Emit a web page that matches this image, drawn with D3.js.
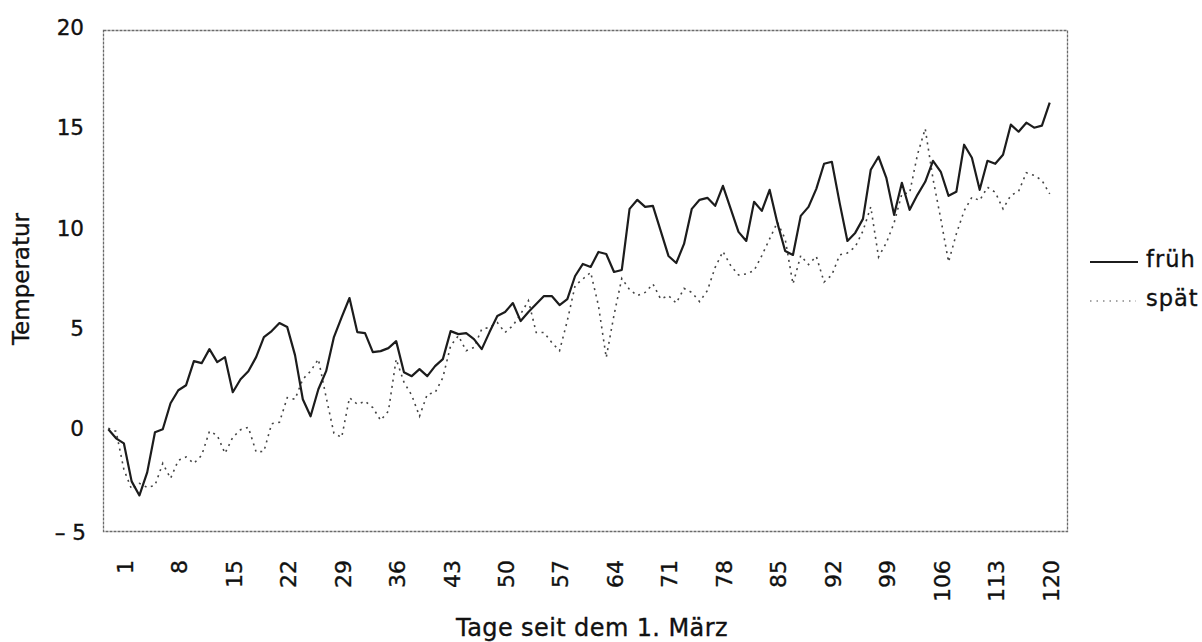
<!DOCTYPE html>
<html>
<head>
<meta charset="utf-8">
<script src="https://cdn.jsdelivr.net/npm/d3@7"></script>
<style>
  html, body { margin: 0; padding: 0; background: #fff; }
  svg { display: block; }
  text { font-family: "DejaVu Sans", "Liberation Sans", sans-serif; fill: #111; stroke: #111; stroke-width: 0.35px; }
</style>
</head>
<body>
<svg id="chart" width="1202" height="642"></svg>
<script>
// ---- data ----
const days = d3.range(-1, 121); // category positions along the axis (122 points)
const frueh = [
  0.1, -0.35, -0.6, -2.5, -3.2, -2.05, -0.05, 0.1, 1.4, 2.05,
  2.3, 3.5, 3.4, 4.1, 3.45, 3.7, 1.95, 2.6, 3.0, 3.7,
  4.7, 5.0, 5.4, 5.2, 3.8, 1.6, 0.75, 2.1, 3.0, 4.7,
  5.7, 6.65, 4.95, 4.9, 3.95, 4.0, 4.15, 4.5, 2.95, 2.75,
  3.1, 2.75, 3.25, 3.6, 5.0, 4.85, 4.9, 4.6, 4.1, 4.95,
  5.75, 5.95, 6.4, 5.5, 5.95, 6.35, 6.75, 6.75, 6.3, 6.6,
  7.75, 8.35, 8.2, 8.95, 8.85, 7.95, 8.05, 11.1, 11.55, 11.2,
  11.25, 10.0, 8.75, 8.4, 9.35, 11.1, 11.55, 11.65, 11.25, 12.25,
  11.1, 9.95, 9.5, 11.45, 11.0, 12.05, 10.4, 9.0, 8.8, 10.75,
  11.2, 12.1, 13.35, 13.45, 11.4, 9.5, 9.9, 10.6, 13.05, 13.7,
  12.65, 10.8, 12.4, 11.05, 11.8, 12.45, 13.5, 12.95, 11.75, 11.95,
  14.3, 13.65, 12.05, 13.5, 13.35, 13.8, 15.3, 14.95, 15.4, 15.15,
  15.25, 16.4
];
const spaet = [
  0.15, 0.0, -1.9, -2.9, -2.6, -2.8, -2.7, -1.6, -2.35, -1.45,
  -1.28, -1.6, -1.2, 0.0, -0.2, -1.1, -0.3, 0.08, 0.2, -1.03,
  -1.0, 0.38, 0.45, 1.68, 1.6, 2.6, 3.0, 3.6, 1.7, -0.1,
  -0.3, 1.68, 1.35, 1.5, 1.18, 0.55, 1.0, 3.6, 2.45, 1.8,
  0.75, 1.85, 1.93, 2.68, 4.27, 4.77, 4.02, 4.18, 5.1, 5.18,
  5.43, 4.93, 5.27, 5.85, 6.52, 4.93, 4.93, 4.43, 4.02, 5.52,
  7.27, 7.6, 7.93, 6.27, 3.68, 5.8, 7.63, 7.07, 6.77, 6.93,
  7.35, 6.6, 6.77, 6.4, 7.13, 6.93, 6.47, 7.02, 8.18, 8.97,
  8.27, 7.8, 7.85, 8.02, 8.77, 9.6, 10.43, 9.6, 7.35, 8.77,
  8.32, 8.73, 7.45, 7.8, 8.8, 8.9, 9.2, 10.0, 11.2, 8.7,
  9.4, 10.4, 11.85, 11.9, 13.8, 15.1, 12.6, 10.6, 8.45, 9.85,
  11.0, 11.68, 11.52, 12.18, 11.93, 11.1, 11.77, 11.97, 12.9, 12.77,
  12.52, 11.85
];
const xTickLabels = [1, 8, 15, 22, 29, 36, 43, 50, 57, 64, 71, 78, 85, 92, 99, 106, 113, 120];
const yTicks = [-5, 0, 5, 10, 15, 20];
const seriesNames = ["früh", "spät"];
const xTitle = "Tage seit dem 1. März";
const yTitle = "Temperatur";

// ---- layout ----
const svg = d3.select("#chart");
const frame = { left: 103.5, right: 1067.5, top: 30.5, bottom: 531.5 };

const x = d3.scaleLinear().domain([-1, 120]).range([108.3, 1049.7]);
const y = d3.scaleLinear().domain([-5, 20]).range([frame.bottom, frame.top]);

// frame (dashed grey border)
svg.append("rect")
  .attr("x", frame.left).attr("y", frame.top)
  .attr("width", frame.right - frame.left).attr("height", frame.bottom - frame.top)
  .attr("stroke", "#6a6a6a").attr("stroke-width", 1.3)
  .attr("stroke-dasharray", "3,1").attr("fill", "none");

// y axis labels
const yAxis = d3.axisLeft(y).tickValues(yTicks).tickSize(0).tickPadding(0)
  .tickFormat(d => d < 0 ? "– " + Math.abs(d) : String(d));
const yg = svg.append("g").attr("transform", `translate(84,0)`).call(yAxis);
yg.select(".domain").remove();
yg.selectAll("text")
  .attr("x", d => d < 0 ? 2 : 0).attr("dy", "0.36em").attr("y", d => d === -5 ? 0 : -3.5)
  .attr("text-anchor", "end")
  .style("font-family", "'DejaVu Sans', sans-serif")
  .style("font-size", "21.5px").attr("fill", "#111");

// x axis labels (rotated)
const xAxis = d3.axisBottom(x).tickValues(xTickLabels).tickSize(0).tickPadding(0)
  .tickFormat(d => String(d));
const xg = svg.append("g").attr("transform", `translate(0,560)`).call(xAxis);
xg.select(".domain").remove();
xg.selectAll("text")
  .attr("transform", "rotate(-90)")
  .attr("x", 0).attr("y", 0).attr("dy", "0.36em").attr("dx", 0)
  .attr("text-anchor", "end")
  .style("font-family", "'DejaVu Sans', sans-serif")
  .style("font-size", "22px").attr("fill", "#111");
xg.selectAll(".tick").attr("transform", d => `translate(${x(d) + 1},0)`);

// lines
const line = d3.line().x((d, i) => x(days[i])).y(d => y(d));

svg.append("path").datum(spaet)
  .attr("d", line).attr("fill", "none")
  .attr("stroke", "#444").attr("stroke-width", 1.6)
  .attr("stroke-dasharray", "2,4.5");

svg.append("path").datum(frueh)
  .attr("d", line).attr("fill", "none")
  .attr("stroke", "#1c1c1c").attr("stroke-width", 2.2)
  .attr("stroke-linejoin", "round");

// axis titles
svg.append("text")
  .attr("x", 592).attr("y", 636)
  .attr("text-anchor", "middle")
  .style("font-size", "24px").style("letter-spacing", "0.4px")
  .text(xTitle);

svg.append("text")
  .attr("transform", "translate(29,279) rotate(-90)")
  .attr("text-anchor", "middle")
  .style("font-size", "23px")
  .text(yTitle);

// legend
const legend = svg.append("g");
legend.append("line")
  .attr("x1", 1090).attr("x2", 1138).attr("y1", 262).attr("y2", 262)
  .attr("stroke", "#1c1c1c").attr("stroke-width", 1.8);
legend.append("line")
  .attr("x1", 1090).attr("x2", 1136).attr("y1", 301).attr("y2", 301)
  .attr("stroke", "#888").attr("stroke-width", 1.5).attr("stroke-dasharray", "1.5,5");
legend.append("text").attr("x", 1146).attr("y", 267)
  .style("font-size", "22.5px").style("letter-spacing", "1px").text(seriesNames[0]);
legend.append("text").attr("x", 1146).attr("y", 306)
  .style("font-size", "22.5px").style("letter-spacing", "1px").text(seriesNames[1]);
</script>
</body>
</html>
